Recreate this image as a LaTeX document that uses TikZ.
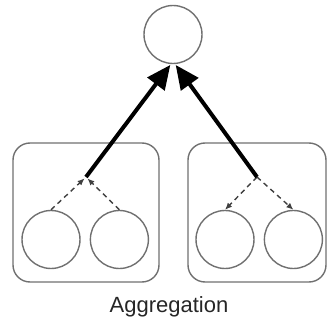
\documentclass[tikz,border=0pt]{standalone}
\usepackage{fontspec}
\setmainfont{Liberation Sans}
\usetikzlibrary{arrows.meta,positioning}
\definecolor{GrisBorde}{HTML}{707070}
\definecolor{GrisFlecha}{HTML}{404040}
\tikzset{
  circulo/.style = {draw=GrisBorde, line width=1.4pt, circle, minimum size=58pt, inner sep=0pt},
  caja/.style    = {draw=GrisBorde, line width=1.4pt, rounded corners=17pt, inner sep=0pt},
  flecha/.style  = {-{Triangle[length=24pt,width=21pt]}, line width=4pt, shorten >=1pt},
  flechad/.style = {-{Latex[length=7pt,width=6pt]}, line width=1.4pt, draw=GrisFlecha,
                    dash pattern=on 5pt off 4pt, shorten >=2pt},
  rotulo/.style  = {font=\fontsize{22}{26}\selectfont, text=black!85},
}
\begin{document}
\begin{tikzpicture}[x=1pt,y=-1pt]
  \useasboundingbox (0,0) rectangle (330,321);

  % Nodo raiz
  \node[circulo] (raiz) at (173,34.5) {};

  % Grupos
  \node[caja, minimum width=146pt, minimum height=139pt] (grupoA) at (86,212.5) {};
  \node[caja, minimum width=138pt, minimum height=139pt] (grupoB) at (257,212.5) {};

  % Hojas
  \node[circulo] (a1) at (51,239.5) {};
  \node[circulo, right=9pt of a1] (a2) {};
  \node[circulo] (b1) at (225,239.5) {};
  \node[circulo, right=9pt of b1] (b2) {};

  \coordinate (unionA) at (86,177);
  \coordinate (unionB) at (257,177);

  % Agregacion hacia arriba
  \draw[flechad] (a1.north) -- (unionA);
  \draw[flechad] (a2.north) -- (unionA);
  \draw[flecha] (unionA) -- (raiz.266);

  % Distribucion hacia abajo
  \draw[flechad, shorten >=0pt] (unionB) -- (b1.north);
  \draw[flechad, shorten >=0pt] (unionB) -- (b2.north);
  \draw[flecha] (unionB) -- (raiz.274);

  \node[rotulo] (titulo) at (169,307) {Aggregation};
\end{tikzpicture}
\end{document}
